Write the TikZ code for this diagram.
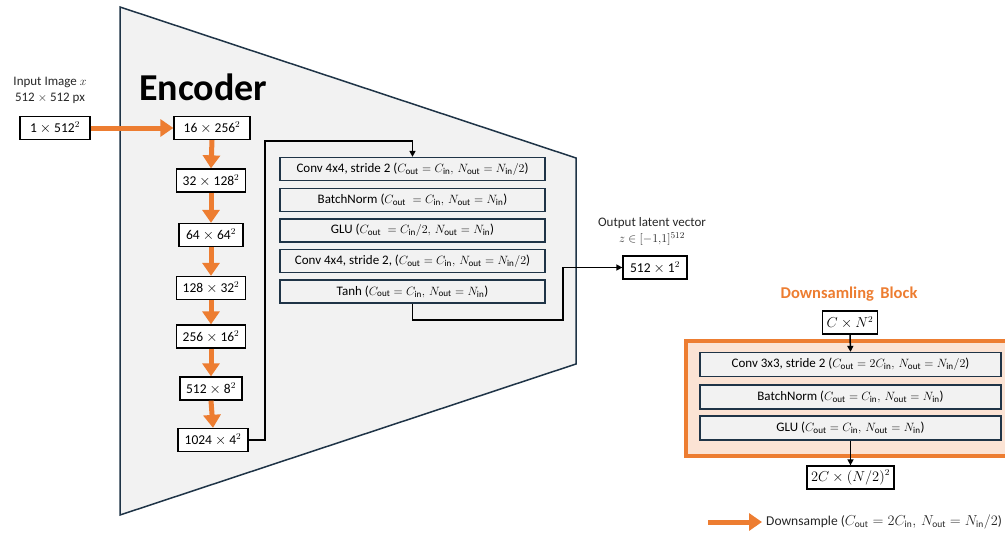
\documentclass[tikz,border=0pt]{standalone}
\usepackage{fontspec}
\setmainfont{Carlito}
\usetikzlibrary{arrows.meta,calc}
\definecolor{orng}{HTML}{ED7D31}
\definecolor{slate}{HTML}{1F3447}
\definecolor{encfill}{HTML}{F2F2F2}
\definecolor{peach}{HTML}{FBE3D4}
\newcommand{\myCo}{C_{\mathrm{out}}}
\newcommand{\myCi}{C_{\mathrm{in}}}
\newcommand{\myNo}{N_{\mathrm{out}}}
\newcommand{\myNi}{N_{\mathrm{in}}}
\begin{document}
\begin{tikzpicture}[x=1pt,y=-1pt,
  shapebox/.style={draw=black, line width=1.3pt, fill=white, minimum height=23pt, inner xsep=4pt, inner ysep=0pt, font=\fontsize{13.5}{15}\selectfont},
  layer/.style={draw=slate, line width=1.3pt, fill=encfill, minimum width=265pt, minimum height=23pt, inner sep=0pt, font=\fontsize{13}{15}\selectfont},
  dlayer/.style={layer, minimum width=301pt, minimum height=24pt},
  oarrow/.style={draw=orng, line width=5pt, -{Triangle[length=13pt,width=17pt]}},
  conn/.style={draw=black, line width=1.5pt, -{Triangle[length=6pt,width=6pt]}},
  lbl/.style={font=\fontsize{13}{15}\selectfont, text=black!85, inner sep=0pt}
]
\useasboundingbox (0,0) rectangle (1005,535);
% encoder trapezoid
\draw[draw=slate, line width=1.5pt, fill=encfill] (120,7) -- (576,158) -- (576,364) -- (120,515) -- cycle;
\node[anchor=west, font=\fontsize{38}{40}\selectfont\bfseries, inner sep=0pt] (enc) at (139,87) {Encoder};

% input
\node[lbl] (inl1) at (50,82) {Input Image $x$};
\node[lbl] (inl2) at (50,98) {512 $\times$ 512 px};
\node[shapebox, minimum width=70pt] (in) at (55,128) {1 $\times$ 512$^2$};

% shape column
\node[shapebox, minimum width=76pt] (s1) at (212,128) {16 $\times$ 256$^2$};
\node[shapebox, minimum width=69pt] (s2) at (211,180.5) {32 $\times$ 128$^2$};
\node[shapebox, minimum width=64pt] (s3) at (211,235) {64 $\times$ 64$^2$};
\node[shapebox, minimum width=69pt] (s4) at (211,288) {128 $\times$ 32$^2$};
\node[shapebox, minimum width=69pt] (s5) at (211,336.5) {256 $\times$ 16$^2$};
\node[shapebox, minimum width=62pt] (s6) at (211,388.5) {512 $\times$ 8$^2$};
\node[shapebox, minimum width=70pt] (s7) at (213,440) {1024 $\times$ 4$^2$};

\draw[oarrow] (in.east) -- (s1.west);
\draw[oarrow] (s1.south) -- (s2.north);
\draw[oarrow] (s2.south) -- (s3.north);
\draw[oarrow] (s3.south) -- (s4.north);
\draw[oarrow] (s4.south) -- (s5.north);
\draw[oarrow] (s5.south) -- (s6.north);
\draw[oarrow] (s6.south) -- (s7.north);

% encoder layers
\node[layer] (l1) at (412.5,169) {Conv 4x4, stride 2 ($\myCo = \myCi,\, \myNo = \myNi/2$)};
\node[layer] (l2) at (412.5,200) {BatchNorm ($\myCo \;= \myCi,\, \myNo = \myNi$)};
\node[layer] (l3) at (412.5,230.5) {GLU ($\myCo \;= \myCi/2,\, \myNo = \myNi$)};
\node[layer] (l4) at (412.5,261) {Conv 4x4, stride 2, ($\myCo = \myCi,\, \myNo = \myNi/2$)};
\node[layer] (l5) at (412.5,291.5) {Tanh ($\myCo = \myCi,\, \myNo = \myNi$)};

\coordinate (c1) at (265,141);
\draw[conn] (s7.east) -| (c1) -| (l1.north);

% output
\node[lbl] (outl1) at (652,223) {Output latent vector};
\node[lbl] (outl2) at (652,239) {$z \in [-1{,}1]^{512}$};
\node[shapebox, minimum width=64pt] (out) at (655,267.5) {512 $\times$ 1$^2$};
\coordinate (c2) at (563,320);
\draw[conn] (l5.south) |- (c2) |- (out.west);

% downsampling block
\node[font=\fontsize{16.5}{18}\selectfont\bfseries, text=orng] (dtitle) at (849,294) {Downsamling\, Block};
\node[shapebox, minimum width=51pt] (cn) at (850,322.5) {$C \times N^2$};
\draw[draw=orng, line width=4pt, fill=peach] (686,341) rectangle (1012,456);
\node[dlayer] (d1) at (850.5,364.5) {Conv 3x3, stride 2 ($\myCo = 2\myCi,\, \myNo = \myNi/2$)};
\node[dlayer] (d2) at (850.5,397) {BatchNorm ($\myCo = \myCi,\, \myNo = \myNi$)};
\node[dlayer] (d3) at (850.5,428) {GLU ($\myCo = \myCi,\, \myNo = \myNi$)};
\node[shapebox, minimum width=85pt] (out2) at (850.5,477.5) {$2C \times (N/2)^2$};
\draw[conn] (cn.south) -- (d1.north);
\draw[conn] (d3.south) -- (out2.north);

% legend
\coordinate (la) at (708,522);
\coordinate (lb) at (762,522);
\draw[oarrow] (la) -- (lb);
\node[lbl, anchor=west, font=\fontsize{13.5}{15}\selectfont] (ltxt) at (766,522) {Downsample ($\myCo = 2\myCi,\, \myNo = \myNi/2$)};
\end{tikzpicture}
\end{document}
